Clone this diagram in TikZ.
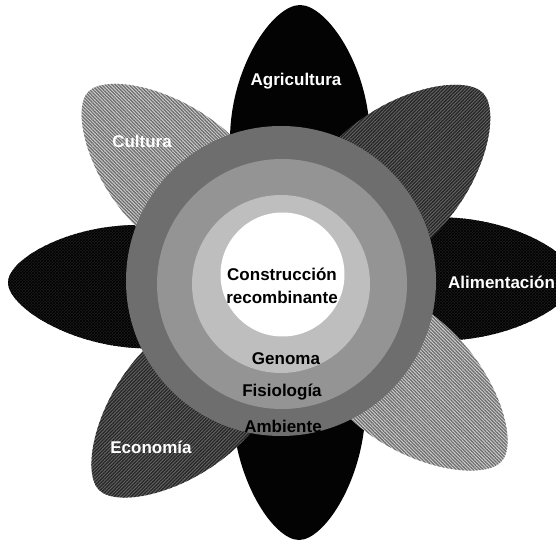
\documentclass[tikz,border=0pt]{standalone}
\usepackage{fontspec}
\setmainfont{Liberation Sans}
\usetikzlibrary{patterns,patterns.meta}
\definecolor{ringA}{HTML}{6E6E6E}
\definecolor{ringB}{HTML}{949494}
\definecolor{ringC}{HTML}{BEBEBE}
\definecolor{hatchLightBg}{HTML}{D2D2D2}
\definecolor{hatchLightFg}{HTML}{6E6E6E}
\definecolor{hatchDarkBg}{HTML}{666666}
\definecolor{hatchDarkFg}{HTML}{262626}
\definecolor{petalBlack}{HTML}{030303}
\definecolor{petalTex}{HTML}{1C1C1C}
\newcommand{\petalshape}{(0,0) .. controls (0,27) and (-62,70) .. (-135,70) .. controls (-200,70) and (-250,40) .. (-260,0) .. controls (-250,-40) and (-200,-70) .. (-135,-70) .. controls (-62,-70) and (0,-27) .. (0,0) -- cycle}
\newcommand{\hatchpetal}[6]{%
  \fill[#4, shift={(#1)}, rotate=#2, yscale=#3] \petalshape;
  \begin{scope}
    \clip[shift={(#1)}, rotate=#2, yscale=#3] \petalshape;
    \fill[pattern={Lines[angle=#6,distance=2.4pt,line width=1.3pt]}, pattern color=#5] (0,0) rectangle (556,543);
  \end{scope}}
\tikzset{
  wlbl/.style={text=white, font=\fontsize{17}{20}\selectfont\bfseries, inner sep=0pt},
  klbl/.style={text=black, font=\fontsize{17}{20}\selectfont\bfseries, inner sep=0pt}
}
\begin{document}
\begin{tikzpicture}[x=1pt,y=1pt]
\useasboundingbox (0,0) rectangle (556,543);
\clip (0,0) rectangle (556,543);
\fill[white] (0,0) rectangle (556,543);
% black petals
\fill[petalBlack, shift={(300,538)}, rotate=90] \petalshape;
\fill[petalBlack, shift={(299,3)}, rotate=-90, yscale=.95] \petalshape;
\fill[petalTex, shift={(8,261)}, rotate=178, yscale=.88] \petalshape;
\fill[pattern=crosshatch, pattern color=black, shift={(8,261)}, rotate=178, yscale=.88] \petalshape;
\fill[petalTex, shift={(576,264)}, rotate=0, yscale=.88] \petalshape;
\fill[pattern=crosshatch, pattern color=black, shift={(576,264)}, rotate=0, yscale=.88] \petalshape;
% hatched petals
\hatchpetal{88,451}{137}{.94}{hatchLightBg}{hatchLightFg}{-45}
\hatchpetal{483,450}{44}{.97}{hatchDarkBg}{hatchDarkFg}{45}
\hatchpetal{99,53}{225}{.96}{hatchDarkBg}{hatchDarkFg}{45}
\hatchpetal{502,82}{-40.5}{.95}{hatchLightBg}{hatchLightFg}{-45}
% rings
\fill[ringA] (281,262) circle[radius=155];
\fill[ringB] (282,259) circle[radius=125];
\fill[ringC] (281,259) circle[radius=89];
\fill[white] (282.5,268.5) circle[radius=62];
% labels
\node[wlbl, anchor=base] (agri) at (296,457) {Agricultura};
\node[wlbl, anchor=base] (cult) at (142,395) {Cultura};
\node[wlbl, anchor=base] (econ) at (151,89.3) {Economía};
\node[wlbl, anchor=base west] (alim) at (448,254.3) {Alimentación};
\node[klbl, anchor=base] (cons1) at (282,262) {Construcción};
\node[klbl, anchor=base] (cons2) at (282,239.7) {recombinante};
\node[klbl, anchor=base] (geno) at (286,178) {Genoma};
\node[klbl, anchor=base] (fisi) at (282,146.3) {Fisiología};
\node[klbl, anchor=base] (ambi) at (283,110.3) {Ambiente};
\end{tikzpicture}
\end{document}
